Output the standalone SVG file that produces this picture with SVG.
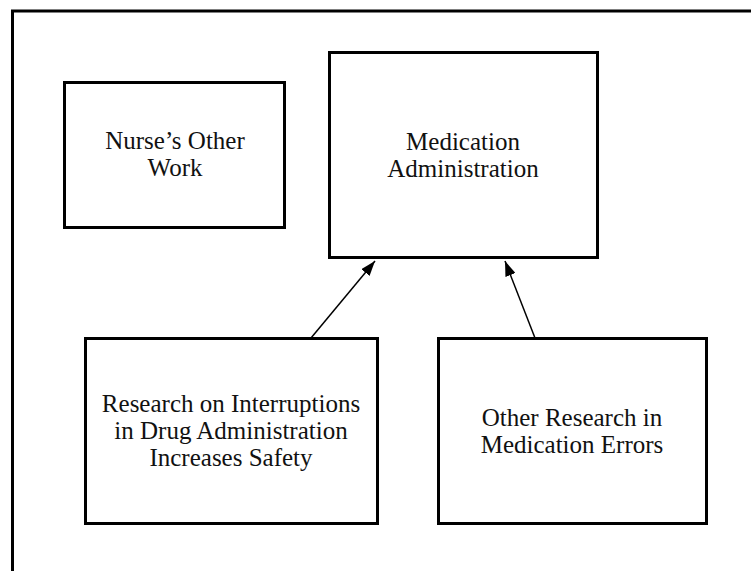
<svg xmlns="http://www.w3.org/2000/svg" width="751" height="571" viewBox="0 0 751 571">
<defs>
<style>
.box{fill:#fff;stroke:#000;stroke-width:3}
.t{font-family:"Liberation Serif","Times New Roman",serif;font-size:25px;fill:#111;text-anchor:middle}
.c{stroke:#000;stroke-width:1.5;fill:none}
</style>
<marker id="ah" viewBox="0 0 14 10" refX="14" refY="5" markerWidth="15" markerHeight="11" markerUnits="userSpaceOnUse" orient="auto">
<path d="M0,0 L14,5 L0,10 z" fill="#000"/>
</marker>
</defs>
<rect width="751" height="571" fill="#fff"/>
<path d="M12.5,580 V11 H760" fill="none" stroke="#000" stroke-width="3"/>
<g id="nurse">
<rect class="box" x="64.5" y="82.5" width="220" height="145"/>
<text class="t" x="175" y="149">Nurse’s Other</text>
<text class="t" x="175" y="176">Work</text>
</g>
<g id="medication">
<rect class="box" x="329.5" y="52.5" width="268" height="205"/>
<text class="t" x="463" y="150">Medication</text>
<text class="t" x="463" y="177">Administration</text>
</g>
<g id="research">
<rect class="box" x="85.5" y="338.5" width="292" height="185"/>
<text class="t" x="231" y="412">Research on Interruptions</text>
<text class="t" x="231" y="439">in Drug Administration</text>
<text class="t" x="231" y="466">Increases Safety</text>
</g>
<g id="other">
<rect class="box" x="438.5" y="338.5" width="268" height="185"/>
<text class="t" x="572" y="426">Other Research in</text>
<text class="t" x="572" y="453">Medication Errors</text>
</g>
<g id="connectors">
<line class="c" x1="311" y1="338" x2="375" y2="261" marker-end="url(#ah)"/>
<line class="c" x1="535" y1="338" x2="505" y2="261" marker-end="url(#ah)"/>
</g>
</svg>
